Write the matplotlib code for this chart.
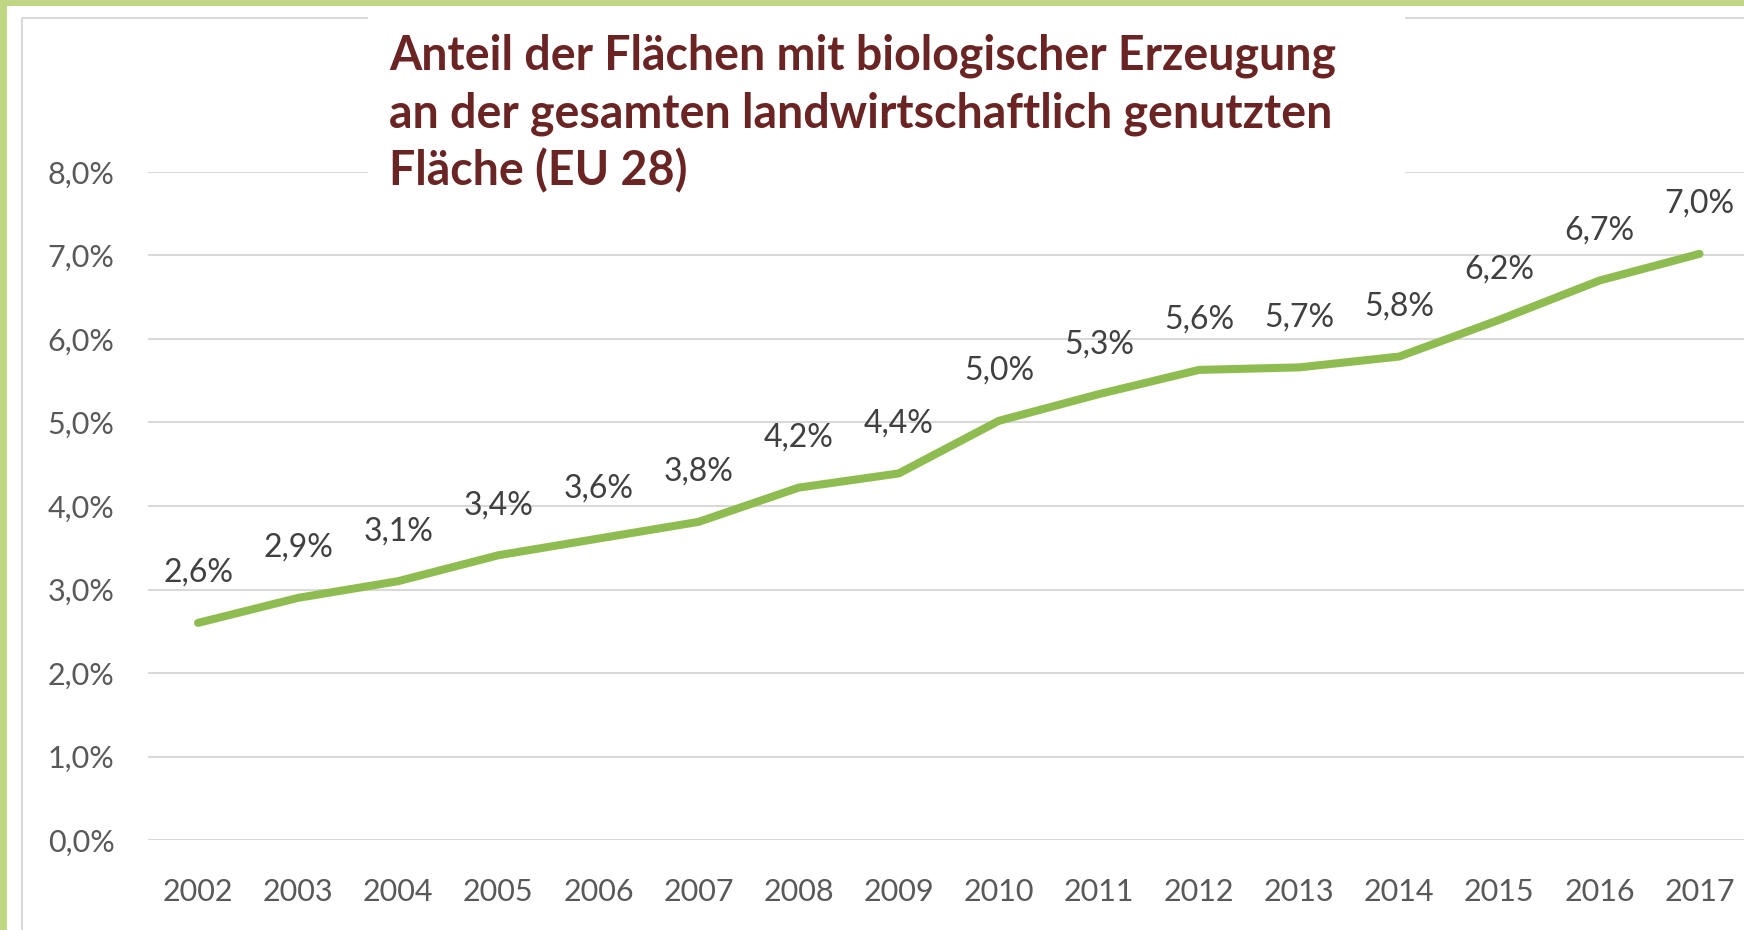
import numpy as np
import matplotlib.pyplot as plt
from matplotlib.patches import Rectangle
from matplotlib.lines import Line2D

# Daten (Anteil Bio-Flaeche an der LF, EU 28)
jahre = ["2002", "2003", "2004", "2005", "2006", "2007", "2008", "2009",
         "2010", "2011", "2012", "2013", "2014", "2015", "2016", "2017"]
anteil = [2.60, 2.90, 3.10, 3.41, 3.61, 3.81, 4.22, 4.39,
          5.02, 5.34, 5.63, 5.66, 5.79, 6.23, 6.70, 7.02]
titel_zeilen = ["Anteil der Flächen mit biologischer Erzeugung",
                "an der gesamten landwirtschaftlich genutzten",
                "Fläche (EU 28)"]

W, H = 1744, 930
fig = plt.figure(figsize=(W / 100, H / 100), dpi=100)
fig.patch.set_facecolor("white")

# gruener Rand oben und links
fig.patches.append(Rectangle((0, 1 - 6 / H), 1, 6 / H, transform=fig.transFigure,
                             facecolor="#bfd784", edgecolor="none", zorder=0))
fig.patches.append(Rectangle((0, 0), 7 / W, 1, transform=fig.transFigure,
                             facecolor="#bfd784", edgecolor="none", zorder=0))

# grauer Diagrammrahmen
fig.lines.append(Line2D([22 / W, 22 / W, 1], [0, 1 - 18 / H, 1 - 18 / H],
                        transform=fig.transFigure, color="#d9d9d9", lw=1.5, zorder=0))

ax = fig.add_axes([148 / W, 90 / H, 1 - 148 / W, (840 - 172) / H])
x = np.arange(len(jahre))
y = np.array(anteil) / 100
ax.plot(x, y, color="#8fbc50", lw=5.8, solid_capstyle="round", solid_joinstyle="round")

for xi, yi in zip(x, y):
    ax.annotate(f"{yi * 100:.1f}%".replace(".", ","), (xi, yi), xytext=(0, 36),
                textcoords="offset points", ha="center", va="center",
                fontsize=23, color="#404040", family="Lato")

ax.set_xlim(-0.5, -0.5 + (W - 148) / 100.1)
ax.set_ylim(0, 0.08)
ax.set_yticks(np.arange(0, 0.081, 0.01))
ax.set_yticklabels([f"{v:.1f}%".replace(".", ",") for v in np.arange(0, 8.1, 1)])
ax.set_xticks(x)
ax.set_xticklabels(jahre)
ax.tick_params(axis="y", length=0, pad=24, labelsize=22, labelcolor="#595959")
ax.tick_params(axis="x", length=0, pad=27, labelsize=22, labelcolor="#595959")
for lab in ax.get_xticklabels() + ax.get_yticklabels():
    lab.set_family("Lato")
ax.grid(axis="y", color="#d9d9d9", lw=1.5)
ax.set_axisbelow(True)
for s in ax.spines.values():
    s.set_visible(False)

# weisses Titelfeld ueber den Gitterlinien
fig.patches.append(Rectangle((368 / W, 1 - 205 / H), (1405 - 368) / W, 195 / H,
                             transform=fig.transFigure, facecolor="white",
                             edgecolor="none", zorder=1))
for i, zeile in enumerate(titel_zeilen):
    fig.text(389 / W, 1 - (70 + i * 57.5) / H, zeile, ha="left", va="baseline",
             fontsize=33.5, fontweight="bold", color="#6b2424", family="Lato", zorder=2)

fig.savefig("out.png", dpi=100)
